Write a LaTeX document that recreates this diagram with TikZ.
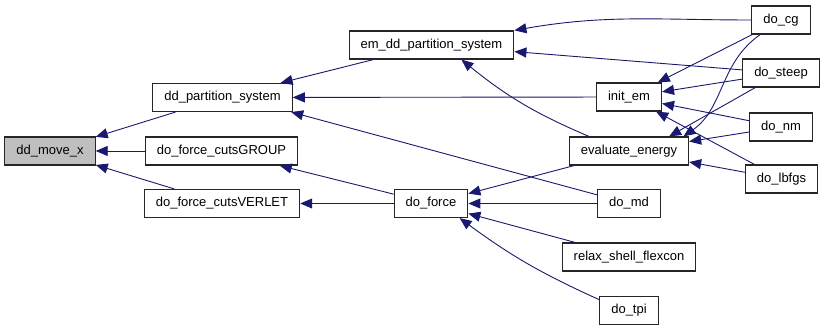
\documentclass[tikz,border=0pt]{standalone}
\usepackage{fontspec}
\setmainfont{Liberation Sans}
\usetikzlibrary{arrows.meta}
\definecolor{callblue}{RGB}{25,25,112}
\definecolor{curgray}{RGB}{191,191,191}
\begin{document}
\begin{tikzpicture}[x=1pt,y=1pt,font=\fontsize{13}{15}\selectfont,
  fn/.style={draw=black!85, line width=1.2pt, fill=white, minimum height=28pt,
    inner xsep=11.5pt, inner ysep=0pt},
  call/.style={draw=callblue, line width=0.9pt,
    -{Triangle[length=12pt,width=10pt]}}]
  \useasboundingbox (0,0) rectangle (824,331);
  % columns of the call graph, callee on the left
  \node[fn, fill=curgray] (move) at (50,180) {dd\_move\_x};
  \node[fn] (dpart)  at (222.5,233.5) {dd\_partition\_system};
  \node[fn] (group)  at (221.5,180) {do\_force\_cutsGROUP};
  \node[fn] (verlet) at (222,127.5) {do\_force\_cutsVERLET};
  \node[fn] (emdd)   at (431.5,286) {em\_dd\_partition\_system};
  \node[fn] (force)  at (431,127.5) {do\_force};
  \node[fn] (initem) at (629,234) {init\_em};
  \node[fn] (evalE)  at (629,180) {evaluate\_energy};
  \node[fn] (domd)   at (629,127.5) {do\_md};
  \node[fn] (relax)  at (629,74) {relax\_shell\_flexcon};
  \node[fn] (dotpi)  at (629,20.5) {do\_tpi};
  \node[fn] (docg)   at (781,311) {do\_cg};
  \node[fn] (dosteep) at (781,258) {do\_steep};
  \node[fn] (donm)   at (781,204) {do\_nm};
  \node[fn] (dolbfgs) at (781.5,152) {do\_lbfgs};
  % callers point back to the callee
  \draw[call] (dpart) -- (move);
  \draw[call] (group) -- (move);
  \draw[call] (verlet) -- (move);
  \draw[call] (emdd) -- (dpart);
  \draw[call] (initem) -- (dpart);
  \draw[call] (domd) -- (dpart.-12);
  \draw[call] (force) -- (group);
  \draw[call] (force) -- (verlet);
  \draw[call] (docg.west) to[out=180,in=10] (emdd.north east);
  \draw[call] (dosteep) -- (emdd);
  \draw[call] (evalE.160) to[bend left=8] (emdd.-26);
  \draw[call] (docg) -- (initem);
  \draw[call] (dosteep) -- (initem);
  \draw[call] (donm) -- (initem);
  \draw[call] (dolbfgs) -- (initem);
  \draw[call] (docg) to[out=-145,in=35] (evalE.15);
  \draw[call] (dosteep) -- (evalE.20);
  \draw[call] (donm) -- (evalE);
  \draw[call] (dolbfgs) -- (evalE);
  \draw[call] (evalE) -- (force);
  \draw[call] (domd) -- (force);
  \draw[call] (relax) -- (force);
  \draw[call] (dotpi.160) to[bend left=6] (force.-27);
\end{tikzpicture}
\end{document}
